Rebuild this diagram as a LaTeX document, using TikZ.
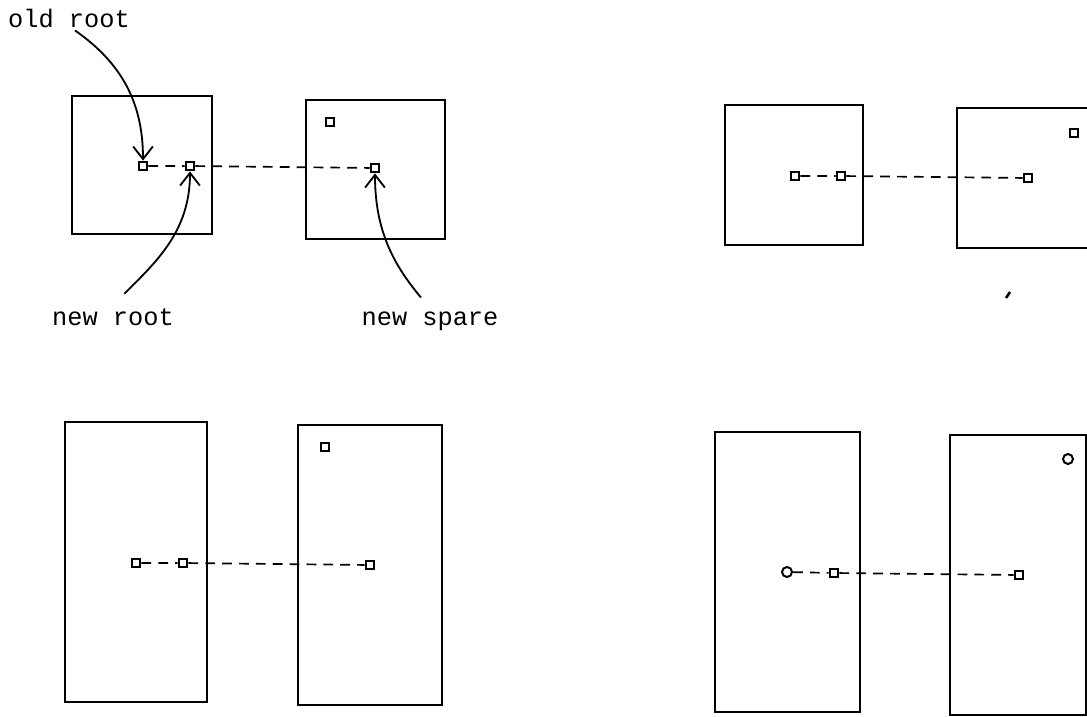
\documentclass[tikz,border=0pt]{standalone}
\usepackage{fontspec}
\setmonofont{Liberation Mono}
\usepackage{tikz}
\usetikzlibrary{arrows.meta,positioning}
\tikzstyle{page} = [draw=black, line width=1.7pt, inner sep=0pt]
\tikzstyle{slot} = [draw=black, line width=1.4pt, minimum size=0.22cm, inner sep=0pt]
\tikzstyle{rslot} = [slot, circle, minimum size=0.25cm]
\tikzstyle{link} = [line width=1.2pt, dash pattern=on 7pt off 5pt]
\tikzstyle{arrow} = [line width=1.3pt,-{Straight Barb[length=9pt,width=14pt]}]
\tikzstyle{lbl} = [font=\ttfamily\fontsize{18}{20}\selectfont, anchor=base, inner sep=2pt]

\begin{document}
\begin{tikzpicture}[x=0.025cm,y=-0.025cm]
	\useasboundingbox (0,0) rectangle (1087,717);
	\clip (0,0) rectangle (1087,717);
	% top left
	\node[page, minimum width=3.5cm, minimum height=3.45cm] (pa1) at (142,165) {};
	\node[page, minimum width=3.475cm, minimum height=3.475cm] (pb1) at (375.5,169.5) {};
	\node[slot] (old1) at (143,166) {};
	\node[slot] (new1) at (190,166) {};
	\node[slot] (sp1) at (330,122) {};
	\node[slot] (nsp1) at (375,168) {};
	\draw[link] (old1) -- (new1) -- (nsp1);
	\node[lbl] (oldroot) at (69,27) {old root};
	\node[lbl] (newroot) at (113,325) {new root};
	\node[lbl] (newspare) at (430,325) {new spare};
	\draw[arrow] ([xshift=0.15cm]oldroot.south) to[out=-35,in=90] (old1.north);
	\draw[arrow, shorten <=0.4cm] (newroot.north) to[out=45,in=-90] (new1.south);
	\draw[arrow, shorten <=0.35cm] (newspare.north) to[out=130,in=-90] (nsp1.south);

	% top right
	\node[page, minimum width=3.45cm, minimum height=3.5cm] (pa2) at (794,175) {};
	\node[page, minimum width=3.45cm, minimum height=3.5cm] (pb2) at (1026,178) {};
	\node[slot] (old2) at (795,176) {};
	\node[slot] (new2) at (841,176) {};
	\node[slot] (sp2) at (1074,133) {};
	\node[slot] (nsp2) at (1028,178) {};
	\draw[link] (old2) -- (new2) -- (nsp2);
	\draw[line width=1.8pt] (1006,298) -- (1010,292);

	% bottom left
	\node[page, minimum width=3.55cm, minimum height=7cm] (pa3) at (136,562) {};
	\node[page, minimum width=3.6cm, minimum height=7cm] (pb3) at (370,565) {};
	\node[slot] (old3) at (136,563) {};
	\node[slot] (new3) at (183,563) {};
	\node[slot] (sp3) at (325,447) {};
	\node[slot] (nsp3) at (370,565) {};
	\draw[link] (old3) -- (new3) -- (nsp3);

	% bottom right
	\node[page, minimum width=3.625cm, minimum height=7cm] (pa4) at (787.5,572) {};
	\node[page, minimum width=3.4cm, minimum height=7cm] (pb4) at (1018,575) {};
	\node[rslot] (old4) at (787,572) {};
	\node[slot] (new4) at (834,573) {};
	\node[rslot] (sp4) at (1068,459) {};
	\node[slot] (nsp4) at (1019,575) {};
	\draw[link] (old4) -- (new4) -- (nsp4);
\end{tikzpicture}
\end{document}
